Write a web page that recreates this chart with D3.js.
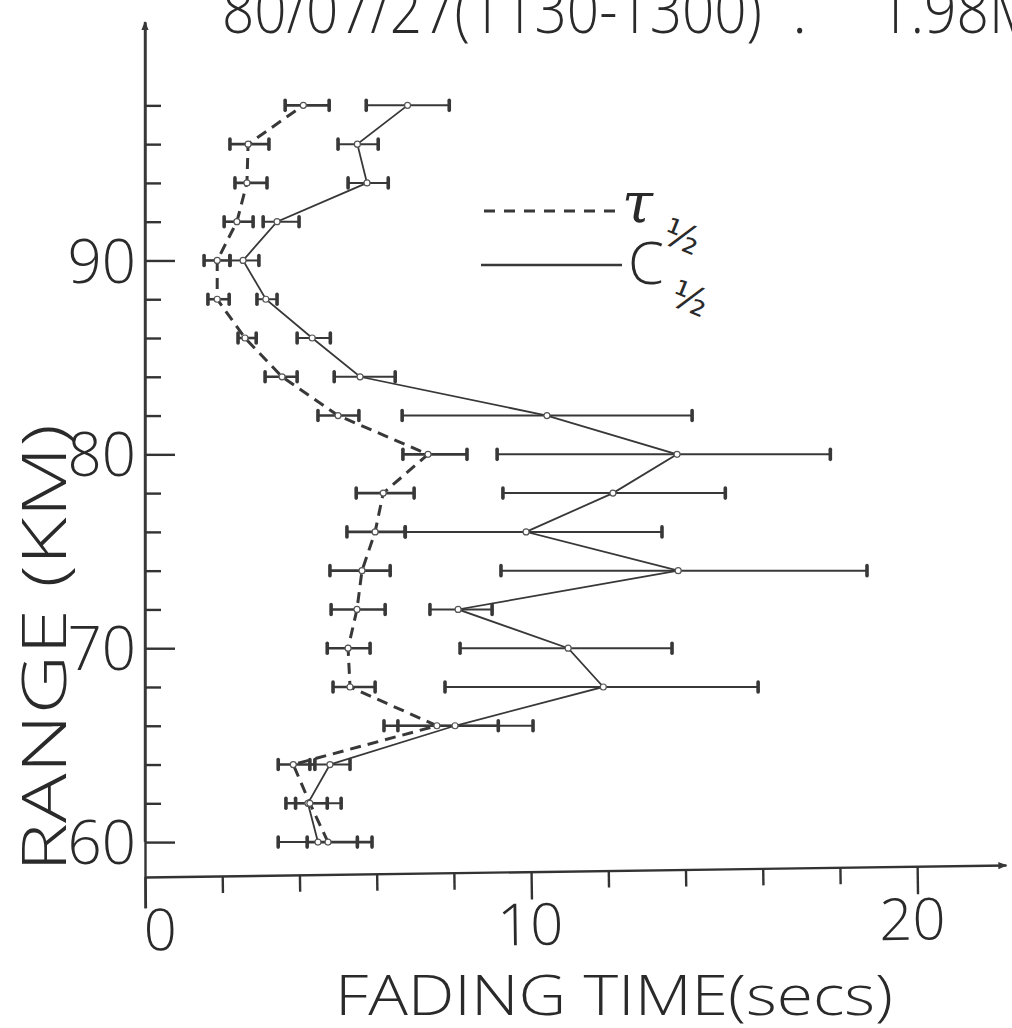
<!DOCTYPE html>
<html lang="en">
<head>
    <meta charset="UTF-8">
    <title>Fading time vs range</title>
    <style>
        body { margin: 0; background: #fff; }
        .axis path, .axis line {
            stroke: #333;
            fill: none;
        }
        .lbl {
            font-family: 'Open Sans', sans-serif;
            font-weight: 300;
            fill: #2a2a2a;
        }
    </style>
</head>
<body>
    <div id='chart'></div>

    <script src='https://cdnjs.cloudflare.com/ajax/libs/d3/7.8.5/d3.min.js'></script>
    <script type='text/javascript'>
        // ranges in km, one row of error bars every 2 km
        const ranges = [60, 62, 64, 66, 68, 70, 72, 74, 76, 78, 80, 82, 84, 86, 88, 90, 92, 94, 96, 98];

        // tau 1/2 (dashed) : value, low and high end of the bar (secs)
        const tauVal = [4.74, 4.27, 3.84, 7.56, 5.31, 5.26, 5.49, 5.62, 5.96, 6.17, 7.33, 5.00, 3.55, 2.59, 1.87, 1.87, 2.38, 2.64, 2.67, 4.10];
        const tauLo  = [4.20, 3.65, 3.45, 6.19, 4.87, 4.72, 4.82, 4.79, 5.23, 5.47, 6.68, 4.48, 3.11, 2.41, 1.63, 1.53, 2.05, 2.33, 2.20, 3.63];
        const tauHi  = [5.88, 4.72, 4.40, 9.15, 5.96, 5.83, 6.22, 6.35, 6.74, 6.97, 8.34, 5.54, 3.94, 2.88, 2.18, 2.20, 2.80, 3.16, 3.21, 4.77];

        // C 1/2 (solid)
        const cVal = [4.48, 4.22, 4.79, 8.03, 11.87, 10.96, 8.11, 13.81, 9.87, 12.12, 13.78, 10.41, 5.57, 4.33, 3.13, 2.54, 3.42, 5.75, 5.50, 6.80];
        const cLo  = [3.45, 3.90, 4.27, 6.55, 7.77, 8.16, 7.38, 9.22, 6.74, 9.27, 9.12, 6.66, 4.90, 3.94, 2.90, 2.20, 3.06, 5.26, 5.00, 5.73];
        const cHi  = [5.50, 5.08, 5.31, 10.05, 15.88, 13.65, 8.99, 18.70, 13.39, 15.03, 17.75, 14.17, 6.48, 4.80, 3.42, 2.95, 3.99, 6.30, 6.04, 7.88];

        const xTicks = [0, 2, 4, 6, 8, 10, 12, 14, 16, 18, 20];
        const xLabels = [0, 10, 20];
        const yLabels = [60, 70, 80, 90];

        const width = 1012;
        const height = 1028;
        const ink = '#383838';

        let svg = d3.select('#chart')
                    .append('svg')
                      .attr('width', width)
                      .attr('height', height);

        let defs = svg.append('defs');
        defs.append('marker')
              .attr('id', 'arrow')
              .attr('viewBox', '0 0 10 10')
              .attr('refX', 9).attr('refY', 5)
              .attr('markerWidth', 9).attr('markerHeight', 9)
              .attr('markerUnits', 'userSpaceOnUse')
              .attr('orient', 'auto')
            .append('path')
              .attr('d', 'M0,1 L10,5 L0,9 Z')
              .attr('fill', ink);

        let xScale = d3.scaleLinear().domain([0, 22.3]).range([145, 1006]);
        let yScale = d3.scaleLinear().domain([56.6, 102.3]).range([908, 22]);

        // Y axis: ticks pointing into the plot, every 2 km
        let yAxis = d3.axisRight(yScale)
                      .tickValues(ranges)
                      .tickSize(16)
                      .tickSizeOuter(0)
                      .tickFormat('');

        let yg = svg.append('g')
                      .attr('class', 'axis y-axis')
                      .attr('transform', 'translate(145, 0)')
                      .call(yAxis);
        yg.select('.domain').attr('stroke-width', 2.4);
        yg.selectAll('.tick line')
            .attr('stroke-width', 2.4)
            .attr('x2', d => yLabels.includes(d) ? 30 : 16);
        // arrow at top
        svg.append('line')
            .attr('x1', 145).attr('y1', yScale(60))
            .attr('x2', 145).attr('y2', 22)
            .attr('stroke', ink).attr('stroke-width', 2.4)
            .attr('marker-end', 'url(#arrow)');

        let yLabelAxis = d3.axisLeft(yScale)
                           .tickValues(yLabels)
                           .tickSize(0)
                           .tickPadding(9);
        let ylg = svg.append('g')
                       .attr('transform', 'translate(145, 0)')
                       .call(yLabelAxis);
        ylg.select('.domain').remove();
        ylg.selectAll('text')
             .attr('class', 'lbl')
             .style('font-size', '60px')
             .attr('dy', '0.36em');

        // X axis, a little tilted as in the drawing
        let xAxis = d3.axisBottom(xScale)
                      .tickValues(xTicks)
                      .tickSize(17)
                      .tickSizeOuter(0)
                      .tickPadding(17)
                      .tickFormat(d => xLabels.includes(d) ? d : '');

        let xg = svg.append('g')
                      .attr('class', 'axis x-axis')
                      .attr('transform', 'translate(0, 877) rotate(-0.8 145 0)')
                      .call(xAxis);
        xg.select('.domain').attr('stroke-width', 2.4).attr('marker-end', 'url(#arrow)');
        xg.selectAll('.tick line')
            .attr('stroke-width', 2.4)
            .attr('y2', d => d === 0 ? 31 : (xLabels.includes(d) ? 28 : 17));
        xg.selectAll('.tick text')
            .attr('class', 'lbl')
            .style('font-size', '58px')
            .attr('dx', d => d === 0 ? 14 : (d === 20 ? -6 : -2))
            .attr('dy', '0.68em');

        // axis titles (wide hand-lettered capitals)
        svg.append('text')
             .attr('class', 'lbl')
             .attr('transform', `translate(66, 648) rotate(-90)`)
             .attr('text-anchor', 'middle')
             .attr('textLength', 448)
             .attr('lengthAdjust', 'spacingAndGlyphs')
             .style('font-size', '60px')
             .text('RANGE (KM)');

        svg.append('text')
             .attr('class', 'lbl')
             .attr('x', 335).attr('y', 1015)
             .attr('textLength', 558)
             .attr('lengthAdjust', 'spacingAndGlyphs')
             .style('font-size', '56px')
             .text('FADING TIME(secs)');

        // title, cut by the top and right edge
        let title = svg.append('text')
                         .attr('class', 'lbl')
                         .attr('y', 33)
                         .style('font-size', '64px');
        title.append('tspan').attr('x', 222).attr('textLength', 540).attr('lengthAdjust', 'spacingAndGlyphs').text('80/07/27(1130-1300)');
        title.append('tspan').attr('x', 792).text('.');
        title.append('tspan').attr('x', 878).attr('textLength', 160).attr('lengthAdjust', 'spacingAndGlyphs').text('1.98M');

        // rows of data
        let tauData = ranges.map((r, i) => ({ r: r, v: tauVal[i], lo: tauLo[i], hi: tauHi[i] }));
        let cData = ranges.map((r, i) => ({ r: r, v: cVal[i], lo: cLo[i], hi: cHi[i] }));

        let line = d3.line()
                     .x(d => xScale(d.v))
                     .y(d => yScale(d.r));

        function drawBars(data, cls, w) {
            let g = svg.append('g').attr('class', cls);
            g.selectAll('line.bar')
               .data(data)
               .enter()
             .append('line')
               .attr('class', 'bar')
               .attr('x1', d => xScale(d.lo))
               .attr('x2', d => xScale(d.hi))
               .attr('y1', d => yScale(d.r))
               .attr('y2', d => yScale(d.r))
               .attr('stroke', ink)
               .attr('stroke-width', w);
            // end caps
            ['lo', 'hi'].forEach(k => {
                g.selectAll('line.cap-' + k)
                   .data(data)
                   .enter()
                 .append('line')
                   .attr('class', 'cap-' + k)
                   .attr('x1', d => xScale(d[k]))
                   .attr('x2', d => xScale(d[k]))
                   .attr('y1', d => yScale(d.r) - 5)
                   .attr('y2', d => yScale(d.r) + 5)
                   .attr('stroke', ink)
                   .attr('stroke-width', 3.6)
                   .attr('stroke-linecap', 'round');
            });
            return g;
        }

        drawBars(cData, 'c-bars', 2);
        drawBars(tauData, 'tau-bars', 2.6);

        svg.append('path')
             .datum(cData)
             .attr('d', line)
             .attr('fill', 'none')
             .attr('stroke', ink)
             .attr('stroke-width', 1.8);

        svg.append('path')
             .datum(tauData)
             .attr('d', line)
             .attr('fill', 'none')
             .attr('stroke', ink)
             .attr('stroke-width', 3)
             .attr('stroke-dasharray', '11,7');

        [cData, tauData].forEach(data => {
            svg.append('g')
                 .selectAll('circle')
                 .data(data)
                 .enter()
               .append('circle')
                 .attr('cx', d => xScale(d.v))
                 .attr('cy', d => yScale(d.r))
                 .attr('r', 3)
                 .attr('fill', '#fff')
                 .attr('stroke', '#555')
                 .attr('stroke-width', 1.2);
        });

        // legend
        let legend = svg.append('g').attr('class', 'legend');
        legend.append('line')
                .attr('x1', 484).attr('x2', 617).attr('y1', 211).attr('y2', 211)
                .attr('stroke', ink).attr('stroke-width', 3)
                .attr('stroke-dasharray', '11,9');
        legend.append('line')
                .attr('x1', 481).attr('x2', 622).attr('y1', 265).attr('y2', 265)
                .attr('stroke', ink).attr('stroke-width', 2.4);

        legend.append('text')
                .attr('x', 622).attr('y', 222)
                .style('font-family', "'DejaVu Serif', serif")
                .style('font-style', 'italic')
                .style('font-size', '56px')
                .attr('fill', '#2a2a2a')
                .text('τ');
        legend.append('text')
                .attr('transform', 'translate(660, 242) rotate(22)')
                .style('font-family', "'DejaVu Sans', sans-serif")
                .attr('fill', '#2a2a2a')
                .style('font-size', '38px')
                .text('½');
        legend.append('text')
                .attr('class', 'lbl')
                .attr('x', 628).attr('y', 284)
                .style('font-size', '58px')
                .text('C');
        legend.append('text')
                .attr('transform', 'translate(668, 304) rotate(22)')
                .style('font-family', "'DejaVu Sans', sans-serif")
                .attr('fill', '#2a2a2a')
                .style('font-size', '38px')
                .text('½');
    </script>
</body>
</html>
